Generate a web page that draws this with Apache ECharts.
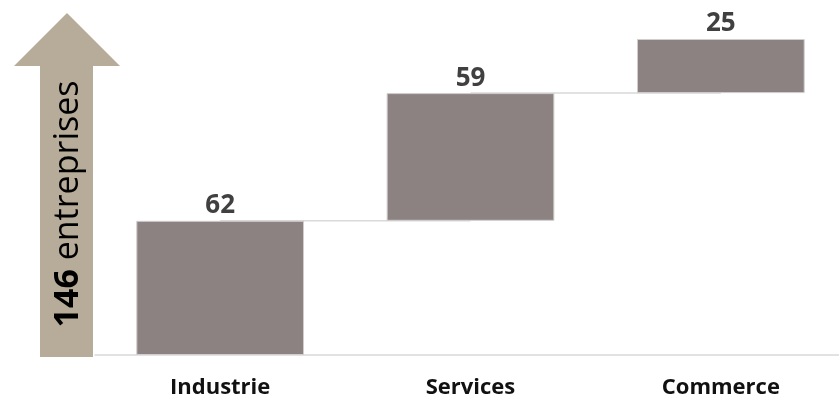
<!DOCTYPE html>
<html>
<head>
<meta charset="utf-8">
<script src="https://cdn.jsdelivr.net/npm/echarts@6/dist/echarts.min.js"></script>
<style>html,body{margin:0;padding:0;background:#fff}#c{width:839px;height:403px}</style>
</head>
<body>
<div id="c"></div>
<script>
const categories = ['Industrie', 'Services', 'Commerce'];
const values = [62, 59, 25];
const totalLabel = '146';
const totalText = ' entreprises';

const bases = [];
let acc = 0;
values.forEach(v => { bases.push(acc); acc += v; });
const tops = values.map((v, i) => bases[i] + v);
const total = acc;

const chart = echarts.init(document.getElementById('c'));
chart.setOption({
  animation: false,
  grid: { left: 95, width: 751, top: 39, height: 316, outerBoundsMode: 'none', containLabel: false },
  xAxis: {
    type: 'category',
    data: categories,
    axisLine: { lineStyle: { color: '#d9d9d9', width: 1.5 } },
    axisTick: { show: false },
    axisLabel: { color: '#111', fontSize: 22, fontWeight: 'bold', fontFamily: 'Open Sans', margin: 22 }
  },
  yAxis: { type: 'value', min: 0, max: total, show: false, splitLine: { show: false } },
  series: [
    {
      type: 'custom',
      z: 1,
      renderItem: function (params, api) {
        const i = params.dataIndex;
        if (i >= values.length - 1) return null;
        const p1 = api.coord([i, tops[i]]);
        const p2 = api.coord([i + 1, tops[i]]);
        return { type: 'line', shape: { x1: p1[0], y1: p1[1], x2: p2[0], y2: p2[1] }, style: { stroke: '#d9d9d9', lineWidth: 1.5 } };
      },
      data: tops.map((t, i) => [i, t]),
      silent: true
    },
    {
      type: 'bar',
      stack: 'w',
      z: 2,
      barCategoryGap: '33%',
      itemStyle: { color: 'transparent' },
      data: bases,
      silent: true
    },
    {
      type: 'bar',
      stack: 'w',
      z: 3,
      itemStyle: { color: '#8c8281', borderColor: '#cfcfcf', borderWidth: 1 },
      label: { show: true, position: 'top', distance: 2, color: '#404040', fontSize: 26, fontWeight: 'bold', fontFamily: 'Open Sans' },
      data: values
    }
  ],
  graphic: [
    {
      type: 'polygon',
      shape: { points: [[40, 357], [40, 66], [14, 66], [67, 13], [120, 66], [93, 66], [93, 357]] },
      style: { fill: '#b7ac99' },
      z: 0
    },
    {
      type: 'text',
      x: 68, y: 204,
      rotation: Math.PI / 2,
      style: {
        text: '{b|' + totalLabel + '}' + totalText,
        fill: '#000',
        fontSize: 34,
        fontFamily: 'Open Sans',
        align: 'center',
        verticalAlign: 'middle',
        rich: { b: { fontWeight: 'bold', fontSize: 34, fontFamily: 'Open Sans', fill: '#000' } }
      },
      z: 1
    }
  ]
});
</script>
</body>
</html>
